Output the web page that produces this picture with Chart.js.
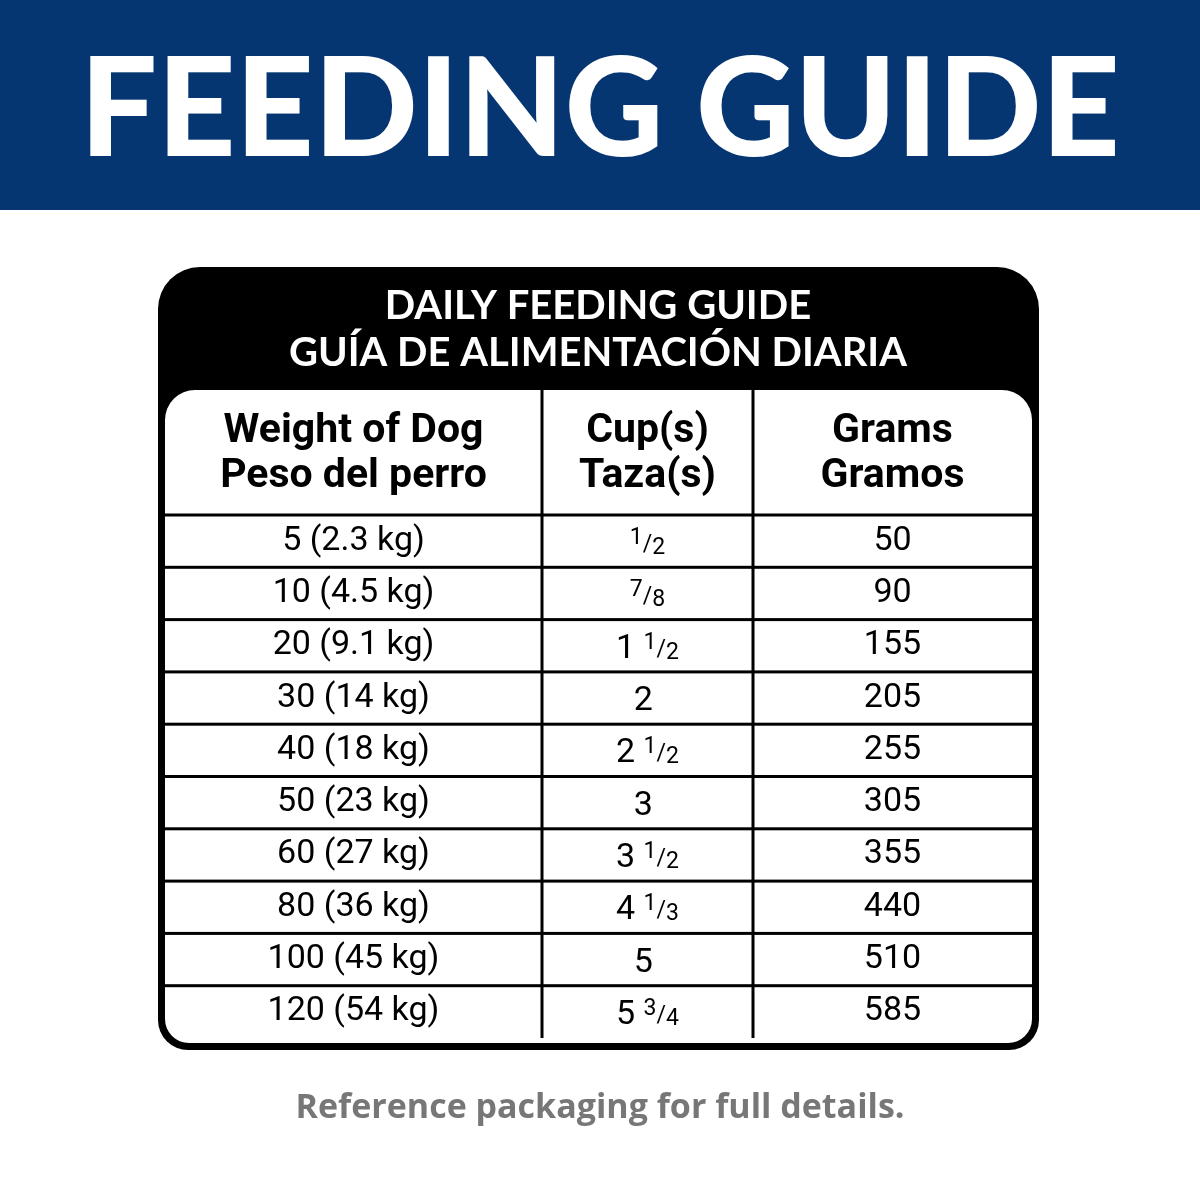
<!DOCTYPE html>
<html><head><meta charset="utf-8">
<script src="https://cdn.jsdelivr.net/npm/chart.js@4"></script>
<style>html,body{margin:0;padding:0;background:#fff}#wrap{width:1200px;height:1200px}</style>
</head><body><div id="wrap"><canvas id="c" width="1200" height="1200"></canvas></div>
<script>
const title = "FEEDING GUIDE";
const tableTitle = ["DAILY FEEDING GUIDE", "GUÍA DE ALIMENTACIÓN DIARIA"];
const headers = [["Weight of Dog","Peso del perro"],["Cup(s)","Taza(s)"],["Grams","Gramos"]];
const weights = ["5 (2.3 kg)","10 (4.5 kg)","20 (9.1 kg)","30 (14 kg)","40 (18 kg)","50 (23 kg)","60 (27 kg)","80 (36 kg)","100 (45 kg)","120 (54 kg)"];
const cups = ["1/2","7/8","1 1/2","2","2 1/2","3","3 1/2","4 1/3","5","5 3/4"];
const grams = [50,90,155,205,255,305,355,440,510,585];
const footer = "Reference packaging for full details.";
const colEdges = [0, 377, 588, 867];

const NAVY = "#063672";
const narrow = "'Liberation Sans Narrow', Roboto, sans-serif";

function rr(ctx,x,y,w,h,r){ctx.beginPath();ctx.moveTo(x+r[0],y);ctx.lineTo(x+w-r[1],y);ctx.arcTo(x+w,y,x+w,y+r[1],r[1]);ctx.lineTo(x+w,y+h-r[2]);ctx.arcTo(x+w,y+h,x+w-r[2],y+h,r[2]);ctx.lineTo(x+r[3],y+h);ctx.arcTo(x,y+h,x,y+h-r[3],r[3]);ctx.lineTo(x,y+r[0]);ctx.arcTo(x,y,x+r[0],y,r[0]);ctx.closePath();}

function drawCup(ctx, s, cx, cy){
  const parts = s.split(" ");
  let whole = "", frac = null;
  if (parts.length===2){whole=parts[0];frac=parts[1];} else if (s.includes("/")) frac=s; else whole=s;
  const big = "34px "+narrow, small = "23px "+narrow;
  ctx.font = big; const ww = whole ? ctx.measureText(whole+" ").width : 0;
  let n="",d="",fw=0;
  if (frac){[n,d]=frac.split("/");ctx.font=small;fw=ctx.measureText(n).width+ctx.measureText("/").width+ctx.measureText(d).width;}
  let x = cx-(ww+fw)/2;
  ctx.textAlign="left";ctx.textBaseline="alphabetic";
  const base = cy+12;
  if (whole){ctx.font=big;ctx.fillText(whole,x,base);x+=ww;}
  if (frac){ctx.font=small;ctx.fillText(n,x,base-9);x+=ctx.measureText(n).width;ctx.fillText("/",x,base-2);x+=ctx.measureText("/").width;ctx.fillText(d,x,base+1);}
}

const tablePlugin = {
  id:"table",
  beforeDraw(chart){
    const ctx=chart.ctx; ctx.save();
    ctx.fillStyle="#fff";ctx.fillRect(0,0,1200,1200);
    ctx.fillStyle=NAVY;ctx.fillRect(0,0,1200,210);
    ctx.fillStyle="#fff";ctx.textAlign="center";ctx.textBaseline="middle";
    let fs=130;ctx.font="900 "+fs+"px Lato, 'DejaVu Sans', sans-serif";
    fs=fs*1040/ctx.measureText(title).width;ctx.font="900 "+fs+"px Lato, 'DejaVu Sans', sans-serif";
    ctx.fillText(title,600,112);
    // outer box
    ctx.fillStyle="#000";rr(ctx,158,267,881,783,[42,42,30,30]);ctx.fill();
    ctx.fillStyle="#fff";rr(ctx,165,390,867,653,[30,30,24,24]);ctx.fill();
    ctx.fillStyle="#fff";ctx.font="bold 40px Lato, 'Open Sans', sans-serif";
    ctx.fillText(tableTitle[0],598,306);ctx.fillText(tableTitle[1],598,353);
    ctx.restore();
  },
  afterDraw(chart){
    const ctx=chart.ctx, xs=chart.scales.x, ys=chart.scales.y;
    ctx.save();
    const L=xs.getPixelForValue(colEdges[0]), R=xs.getPixelForValue(colEdges[3]);
    ctx.fillStyle="#000";
    // column separators
    [1,2].forEach(i=>{const x=xs.getPixelForValue(colEdges[i]);ctx.fillRect(x-1.5,390,3,ys.bottom-390);});
    // row separators
    const n=weights.length, rh=(ys.bottom-ys.top)/n;
    for(let i=0;i<n;i++){const y=ys.getPixelForValue(i)-rh/2;ctx.fillRect(L,y-1.5,R-L,3);}
    const cx=[0,1,2].map(i=>(xs.getPixelForValue(colEdges[i])+xs.getPixelForValue(colEdges[i+1]))/2);
    // header
    ctx.textAlign="center";ctx.textBaseline="middle";ctx.font="bold 41px "+narrow;
    headers.forEach((h,i)=>{ctx.fillText(h[0],cx[i],432);ctx.fillText(h[1],cx[i],477);});
    ctx.font="34px "+narrow;
    for(let i=0;i<n;i++){
      const y=ys.getPixelForValue(i);
      ctx.textAlign="center";ctx.textBaseline="middle";ctx.font="34px "+narrow;
      ctx.fillText(weights[i],cx[0],y);ctx.fillText(String(grams[i]),cx[2],y);
      drawCup(ctx,cups[i],cx[1],y);
    }
    ctx.fillStyle="#777";ctx.font="bold 34px 'Open Sans', Lato, sans-serif";ctx.textAlign="center";
    ctx.fillText(footer,600,1118);
    ctx.restore();
  }
};

new Chart(document.getElementById("c"),{
  type:"bar",
  data:{labels:weights,datasets:[{data:grams.map(()=>null)}]},
  options:{responsive:false,animation:false,indexAxis:"y",
    layout:{padding:{left:165,right:168,top:515,bottom:162}},
    plugins:{legend:{display:false},tooltip:{enabled:false}},
    scales:{x:{type:"linear",min:colEdges[0],max:colEdges[3],display:false},
            y:{type:"category",display:false,offset:true}}},
  plugins:[tablePlugin]
});
</script></body></html>
